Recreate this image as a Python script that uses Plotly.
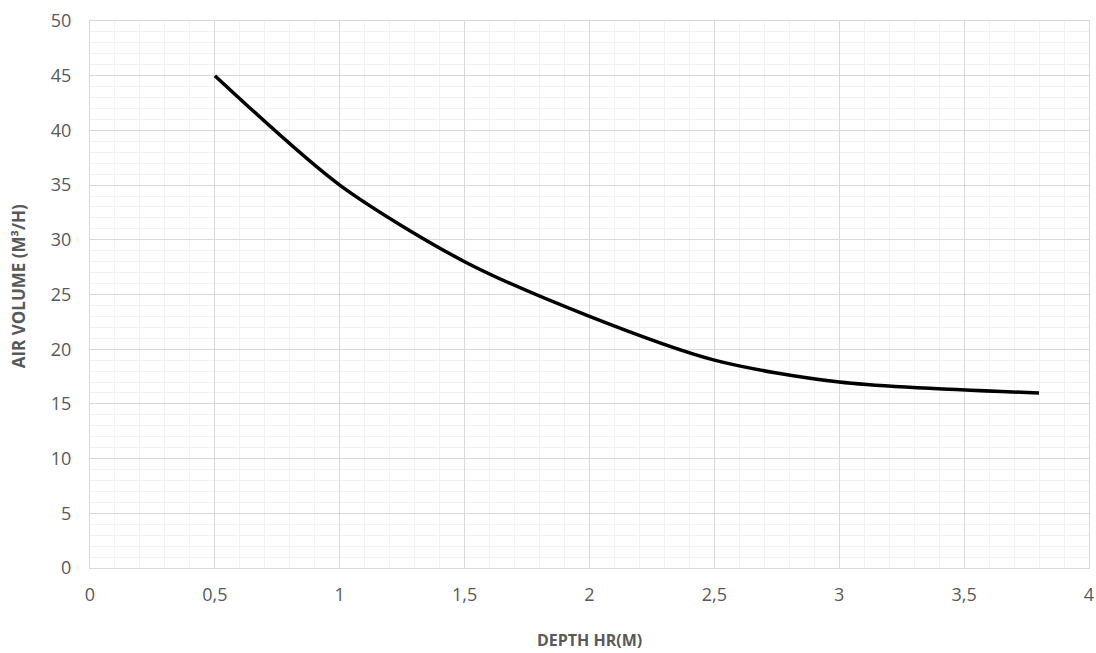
import plotly.graph_objects as go

depth = [0.5, 1.0, 1.5, 2.0, 2.5, 3.0, 3.8]
air_volume = [45, 35, 28, 23, 19, 17, 16]

x_ticks = [0, 0.5, 1, 1.5, 2, 2.5, 3, 3.5, 4]
y_ticks = [0, 5, 10, 15, 20, 25, 30, 35, 40, 45, 50]

fig = go.Figure()
fig.add_trace(go.Scatter(
    x=depth, y=air_volume, mode="lines",
    line=dict(color="#000000", width=3.5, shape="spline", smoothing=0.8),
    showlegend=False,
))

font_fam = "Open Sans, Liberation Sans, sans-serif"
fig.update_layout(
    width=1096, height=653,
    margin=dict(l=90, r=7, t=21, b=85),
    paper_bgcolor="white", plot_bgcolor="white",
    separators=", ",
    font=dict(family=font_fam, color="#595959"),
)
fig.update_xaxes(
    range=[0, 4], tickvals=x_ticks, tickformat=".1~f", automargin=False,
    showgrid=True, gridcolor="#d9d9d9", gridwidth=1,
    minor=dict(dtick=0.1, showgrid=True, gridcolor="#f2f2f2", gridwidth=1),
    zeroline=False, showline=True, linecolor="#d9d9d9", mirror=True,
    ticks="", tickfont=dict(size=18, color="#595959"), ticklabelstandoff=10,
)
fig.update_yaxes(
    range=[0, 50], tickvals=y_ticks, automargin=False,
    showgrid=True, gridcolor="#d9d9d9", gridwidth=1,
    minor=dict(dtick=1, showgrid=True, gridcolor="#f2f2f2", gridwidth=1),
    zeroline=False, showline=True, linecolor="#d9d9d9", mirror=True,
    ticks="", tickfont=dict(size=18, color="#595959"), ticklabelstandoff=14,
)
fig.add_annotation(
    text="<b>DEPTH HR(M)</b>", xref="paper", yref="paper", x=0.5, y=0,
    yshift=-72, showarrow=False, font=dict(size=16, color="#595959"),
    xanchor="center", yanchor="middle",
)
fig.add_annotation(
    text="<b>AIR VOLUME (M³/H)</b>", xref="paper", yref="paper", x=0, y=0.515,
    xshift=-72, showarrow=False, textangle=-90, font=dict(size=17, color="#595959"),
    xanchor="center", yanchor="middle",
)
fig.write_html(
    "out.html",
    config={"displayModeBar": False},
    post_script="document.body.style.margin='0';document.body.style.overflow='hidden';",
)
